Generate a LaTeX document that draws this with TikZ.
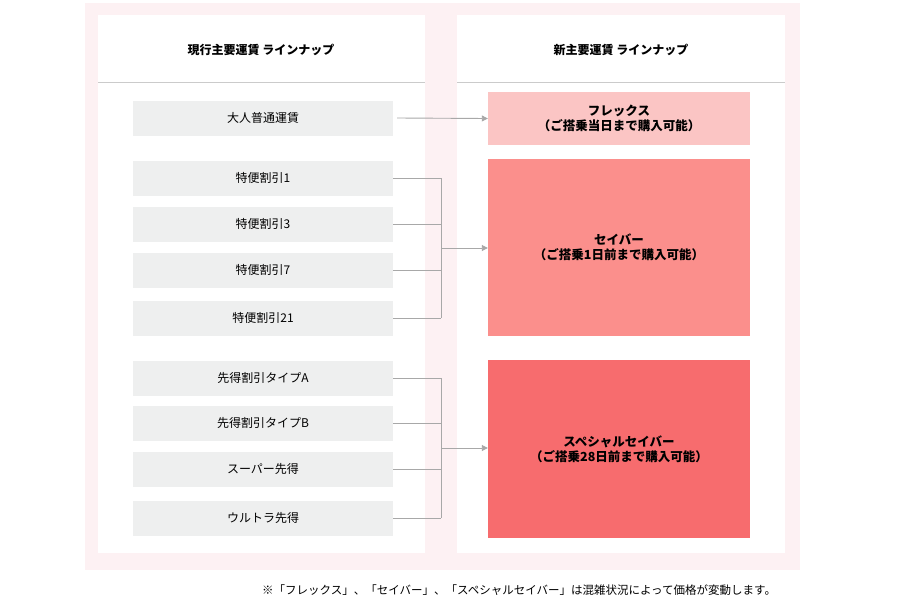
\documentclass[tikz,border=0pt]{standalone}
\usepackage{fontspec}
\setmainfont{Noto Sans CJK JP}
\usetikzlibrary{arrows.meta}
\definecolor{bgpink}{HTML}{FDF1F3}
\definecolor{boxgray}{HTML}{EEEFEF}
\definecolor{flex}{HTML}{FBC5C4}
\definecolor{saver}{HTML}{FB8F8C}
\definecolor{special}{HTML}{F76C6E}
\definecolor{lin}{HTML}{A8A8A8}
\tikzset{
 oldbox/.style={fill=boxgray,minimum width=260pt,minimum height=35pt,font=\fontsize{12}{14}\selectfont,inner sep=0pt},
 newbox/.style={minimum width=262pt,font=\bfseries\fontsize{12.5}{15}\selectfont,align=center,inner sep=0pt},
 con/.style={draw=lin,line width=0.9pt},
 arr/.style={con,-{Triangle[length=6pt,width=6pt]}},
 hdr/.style={font=\bfseries\fontsize{12}{14}\selectfont}
}
\begin{document}
\begin{tikzpicture}[x=1pt,y=-1pt]
\useasboundingbox (0,0) rectangle (900,600);
\fill[white] (0,0) rectangle (900,600);
\fill[bgpink] (85,3) rectangle (800,570);
\fill[white] (98,15) rectangle (425,553);
\fill[white] (457,15) rectangle (785,553);
\draw[lin!60,line width=0.8pt] (98,82) -- (425,82);
\draw[lin!60,line width=0.8pt] (457,82) -- (785,82);
\node[hdr] (h1) at (261,50) {現行主要運賃 ラインナップ};
\node[hdr] (h2) at (621,50) {新主要運賃 ラインナップ};
\node[oldbox] (a) at (263,118) {大人普通運賃};
\node[oldbox] (b1) at (263,178) {特便割引1};
\node[oldbox] (b2) at (263,224) {特便割引3};
\node[oldbox] (b3) at (263,270) {特便割引7};
\node[oldbox] (b4) at (263,318) {特便割引21};
\node[oldbox] (c1) at (263,378) {先得割引タイプA};
\node[oldbox] (c2) at (263,423) {先得割引タイプB};
\node[oldbox] (c3) at (263,469) {スーパー先得};
\node[oldbox] (c4) at (263,518) {ウルトラ先得};
\node[newbox,fill=flex,minimum height=53pt] (f) at (619,118.5) {フレックス\\（ご搭乗当日まで購入可能）};
\node[newbox,fill=saver,minimum height=177pt] (s) at (619,247.5) {セイバー\\（ご搭乗1日前まで購入可能）};
\node[newbox,fill=special,minimum height=178pt] (sp) at (619,449) {スペシャルセイバー\\（ご搭乗28日前まで購入可能）};
\coordinate (bs) at (441,248);
\coordinate (cs) at (441,448);
\draw[arr] ([xshift=4pt]a.east) -- (f.west);
\foreach \n in {b1,b2,b3,b4} \draw[con] (\n.east) -- (\n.east -| bs);
\draw[con] (b1.east -| bs) -- (b4.east -| bs);
\draw[arr] (bs) -- (bs -| s.west);
\foreach \n in {c1,c2,c3,c4} \draw[con] (\n.east) -- (\n.east -| cs);
\draw[con] (c1.east -| cs) -- (c4.east -| cs);
\draw[arr] (cs) -- (cs -| sp.west);
\node[font=\fontsize{11.5}{13}\selectfont,anchor=west,inner sep=0pt] (fn) at (262,590) {※「フレックス」、「セイバー」、「スペシャルセイバー」は混雑状況によって価格が変動します。};
\end{tikzpicture}
\end{document}
